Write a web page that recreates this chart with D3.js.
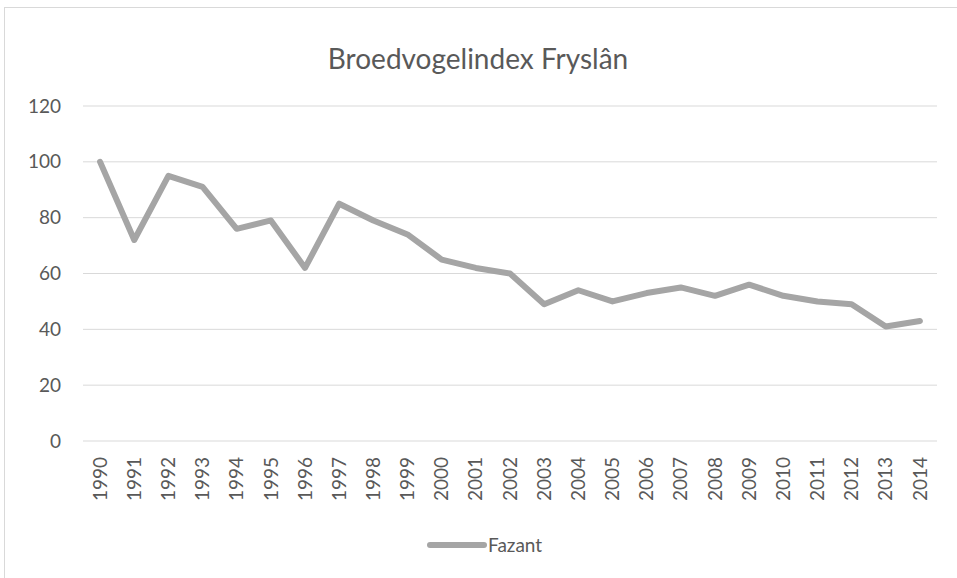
<!DOCTYPE html>
<html>
<head>
<meta charset="utf-8">
<script src="https://cdn.jsdelivr.net/npm/d3@7"></script>
<style>
  body { margin: 0; background: #fff; }
  text { font-family: Lato, "Open Sans", sans-serif; fill: #595959; }
</style>
</head>
<body>
<div id="chart"></div>
<script>
const years = d3.range(1990, 2015).map(String);
const fazant = [100, 72, 95, 91, 76, 79, 62, 85, 79, 74, 65, 62, 60, 49, 54, 50, 53, 55, 52, 56, 52, 50, 49, 41, 43];
const yTicks = [0, 20, 40, 60, 80, 100, 120];
const seriesName = 'Fazant';
const title = 'Broedvogelindex Fryslân';

const W = 957, H = 578;
const margin = {top: 106, left: 83, right: 20, bottom: 137};
const width = W - margin.left - margin.right;
const height = H - margin.top - margin.bottom;

const svg = d3.select('#chart').append('svg')
  .attr('width', W).attr('height', H);

// chart border
svg.append('rect')
  .attr('x', 4.5).attr('y', 7.5)
  .attr('width', W + 10).attr('height', H + 10)
  .attr('fill', 'none').attr('stroke', '#d9d9d9');

svg.append('text')
  .attr('x', 478).attr('y', 69)
  .attr('text-anchor', 'middle')
  .style('font-size', '28px')
  .text(title);

const g = svg.append('g')
  .attr('transform', 'translate(' + margin.left + ',' + margin.top + ')');

const x = d3.scaleBand().domain(years).range([0, width]);
const y = d3.scaleLinear().domain([0, 120]).range([height, 0]);

// gridlines
g.append('g').selectAll('line')
  .data(yTicks)
  .enter().append('line')
    .attr('x1', 0).attr('x2', width)
    .attr('y1', d => y(d)).attr('y2', d => y(d))
    .attr('stroke', '#d9d9d9').attr('stroke-width', 1);

// y labels
g.append('g').selectAll('text')
  .data(yTicks)
  .enter().append('text')
    .attr('x', -22).attr('y', d => y(d))
    .attr('dy', '0.35em')
    .attr('text-anchor', 'end')
    .style('font-size', '19px')
    .text(d => d);

// x labels, rotated
g.append('g').selectAll('text')
  .data(years)
  .enter().append('text')
    .attr('transform', d => 'translate(' + (x(d) + x.bandwidth() / 2) + ',' + (height + 16) + ') rotate(-90)')
    .attr('dy', '0.35em')
    .attr('text-anchor', 'end')
    .style('font-size', '19px')
    .text(d => d);

const line = d3.line()
  .x((d, i) => x(years[i]) + x.bandwidth() / 2)
  .y(d => y(d));

g.append('path')
  .datum(fazant)
  .attr('d', line)
  .attr('fill', 'none')
  .attr('stroke', '#a5a5a5')
  .attr('stroke-width', 6)
  .attr('stroke-linejoin', 'round')
  .attr('stroke-linecap', 'round');

// legend
const lg = svg.append('g').attr('transform', 'translate(430,545)');
lg.append('line')
  .attr('x1', 0).attr('x2', 54)
  .attr('stroke', '#a5a5a5').attr('stroke-width', 6)
  .attr('stroke-linecap', 'round');
lg.append('text')
  .attr('x', 58).attr('dy', '0.35em')
  .style('font-size', '19px')
  .text(seriesName);
</script>
</body>
</html>
